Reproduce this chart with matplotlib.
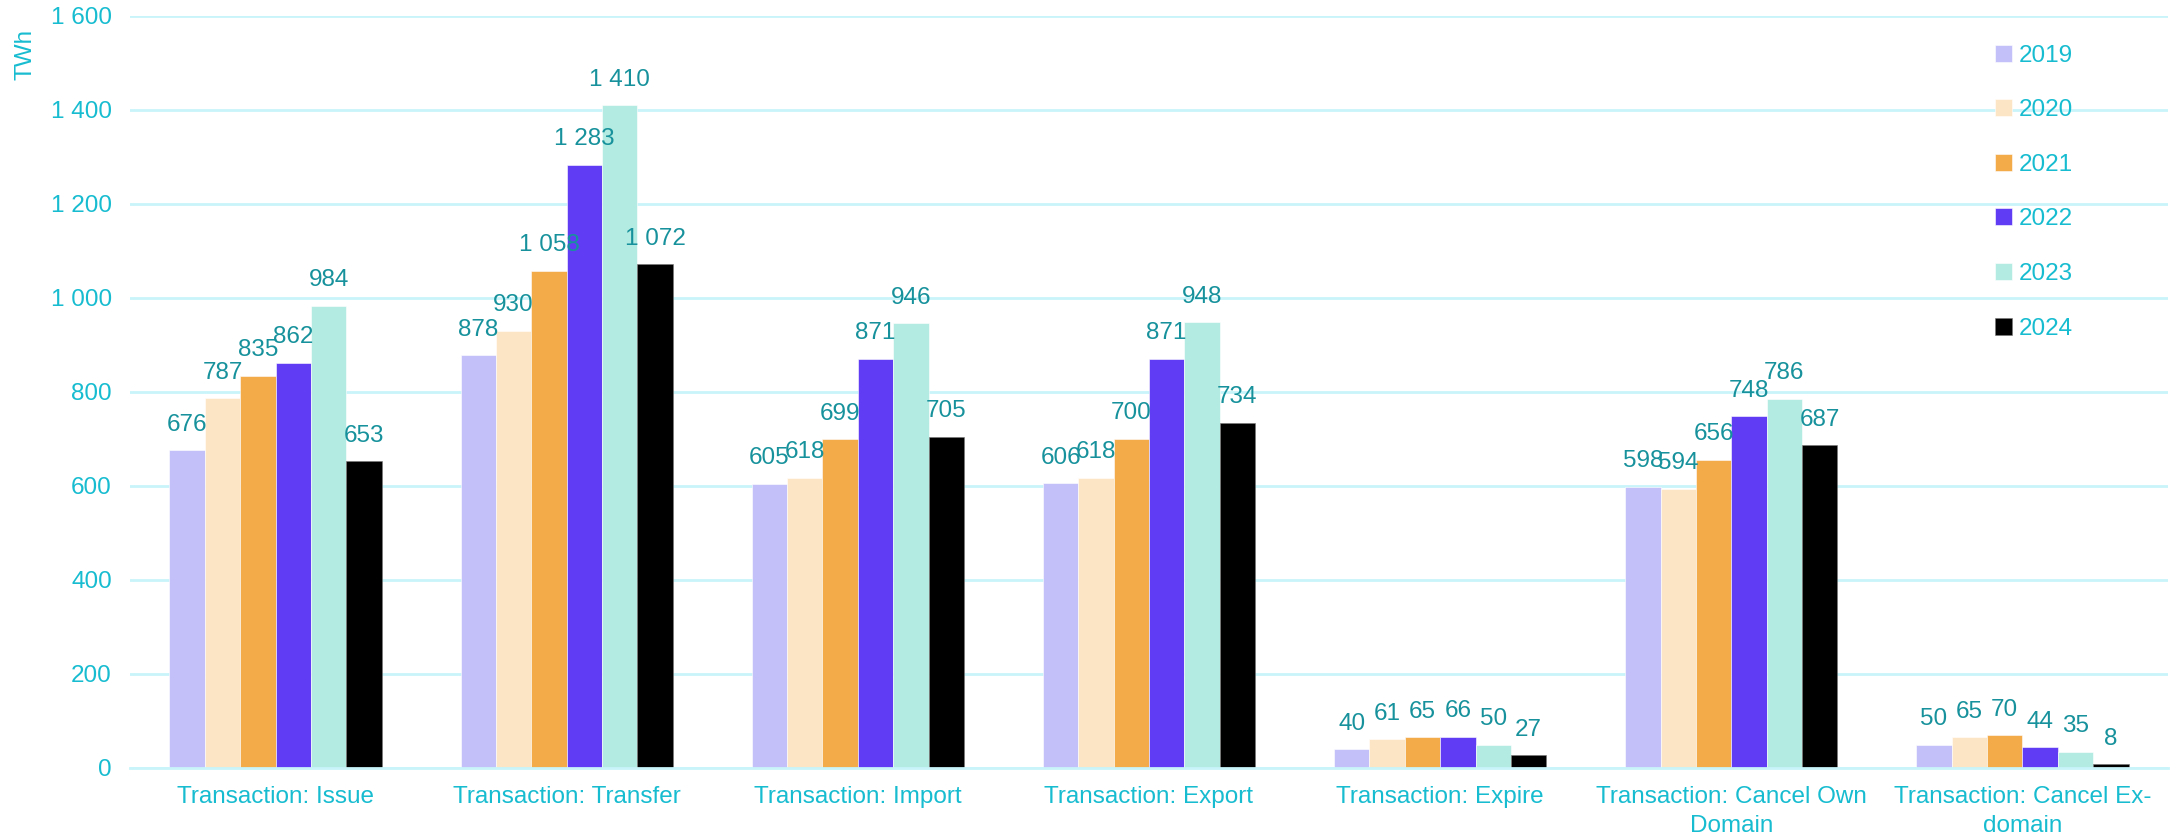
import matplotlib
matplotlib.use("Agg")
import matplotlib.pyplot as plt
import numpy as np

categories = ["Transaction: Issue", "Transaction: Transfer", "Transaction: Import",
              "Transaction: Export", "Transaction: Expire",
              "Transaction: Cancel Own\nDomain", "Transaction: Cancel Ex-\ndomain"]
years = ["2019", "2020", "2021", "2022", "2023", "2024"]
v2019 = [676, 878, 605, 606, 40, 598, 50]
v2020 = [787, 930, 618, 618, 61, 594, 65]
v2021 = [835, 1058, 699, 700, 65, 656, 70]
v2022 = [862, 1283, 871, 871, 66, 748, 44]
v2023 = [984, 1410, 946, 948, 50, 786, 35]
v2024 = [653, 1072, 705, 734, 27, 687, 8]
series = [v2019, v2020, v2021, v2022, v2023, v2024]
colors = ["#C3BFF8", "#FCE5C4", "#F3AA48", "#613CF5", "#B3EAE1", "#000000"]
yticks = [0, 200, 400, 600, 800, 1000, 1200, 1400, 1600]

plt.rcParams['font.family'] = ['Liberation Sans', 'DejaVu Sans']
TICK = "#17BCD0"
LAB = "#17929C"
GRID = "#C8F4FA"

W, H = 2183, 839
fig = plt.figure(figsize=(W / 100, H / 100), dpi=100)
ax = fig.add_axes([130 / W, 1 - 768 / H, (2168 - 130) / W, (768 - 16) / H])

def fmt(v):
    return f"{v:,}".replace(",", " ")

x = np.arange(len(categories))
bw = 0.1215
n = len(series)
for i, (vals, c, yr) in enumerate(zip(series, colors, years)):
    pos = x + (i - (n - 1) / 2) * bw
    ax.bar(pos, vals, width=bw, color=c, label=yr, zorder=2,
           edgecolor="white" if i < 5 else "#777777", linewidth=0.4)
    for p, v in zip(pos, vals):
        ax.annotate(fmt(v), (p, v), xytext=(0, 10.5), textcoords="offset points",
                    ha="center", va="bottom", color=LAB, fontsize=17.5, zorder=3)

ax.set_xlim(-0.5, len(categories) - 0.5)
ax.set_ylim(0, 1600)
ax.set_yticks(yticks)
ax.set_yticklabels([fmt(t) for t in yticks])
ax.set_xticks(x)
ax.set_xticklabels(categories, linespacing=1.38)
ax.tick_params(axis='both', length=0, colors=TICK, labelsize=17.5)
ax.tick_params(axis='y', pad=13)
ax.tick_params(axis='x', pad=13)
ax.grid(axis='y', color=GRID, linewidth=2, zorder=0)
ax.set_axisbelow(True)
for s in ["top", "right", "left"]:
    ax.spines[s].set_visible(False)
ax.spines["bottom"].set_color(GRID)
ax.spines["bottom"].set_linewidth(2)

fig.text(26 / W, 1 - 54 / H, "TWh", rotation=90, ha="center", va="center",
         color=TICK, fontsize=17.5)

leg = ax.legend(loc="upper left", bbox_to_anchor=(1985 / W, 1 - 35 / H),
                bbox_transform=fig.transFigure, frameon=False,
                handlelength=0.7, handleheight=0.7, handletextpad=0.3,
                labelspacing=1.34, fontsize=17.5, borderaxespad=0)
for t in leg.get_texts():
    t.set_color(TICK)

fig.savefig("out.png", dpi=100)
